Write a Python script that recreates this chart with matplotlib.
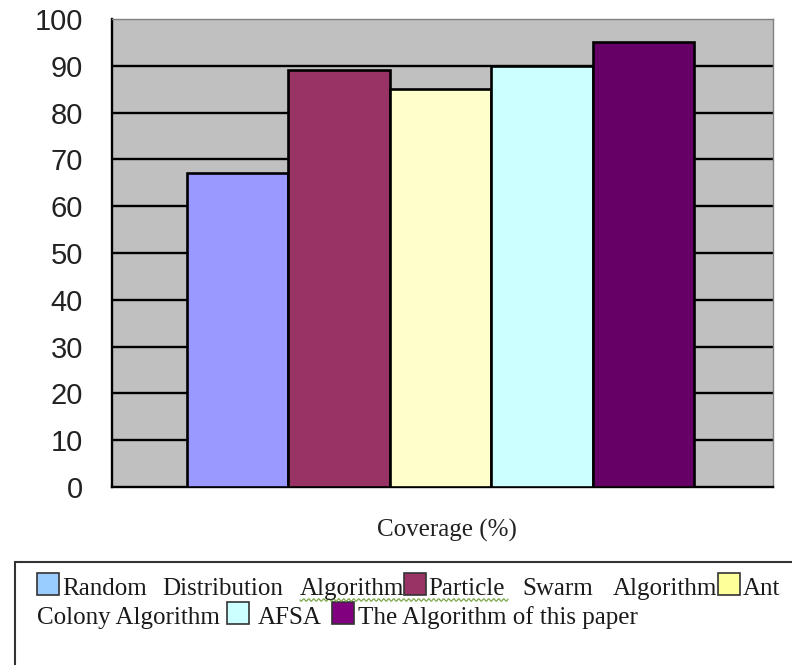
import numpy as np
import matplotlib.pyplot as plt
from matplotlib.patches import Rectangle
from matplotlib.lines import Line2D

algorithms = ["Random Distribution Algorithm", "Particle Swarm Algorithm",
              "Ant Colony Algorithm", "AFSA", "The Algorithm of this paper"]
coverage = [67, 89, 85, 90, 95]
y_ticks = [0, 10, 20, 30, 40, 50, 60, 70, 80, 90, 100]

bar_colors = ["#9999FF", "#993366", "#FFFFCC", "#CCFFFF", "#660066"]
swatch_colors = ["#99CCFF", "#993366", "#FFFF99", "#CCFFFF", "#800080"]

W, H = 792, 665
fig = plt.figure(figsize=(W / 100, H / 100), dpi=100)


def fx(x):
    return x / W


def fy(y):
    return 1 - y / H


ax = fig.add_axes([fx(112), fy(487), 661 / W, 468 / H])
ax.set_facecolor("#C0C0C0")

x = np.arange(len(coverage))
ax.bar(x, coverage, width=1.0, color=bar_colors, edgecolor="black",
       linewidth=1.9, zorder=3)

ax.set_xlim(-1.24, 5.28)
ax.set_ylim(0, 100)
ax.set_yticks(y_ticks)
ax.set_yticklabels([str(t) for t in y_ticks], fontsize=21,
                   family="Liberation Sans", color="#222222")
ax.tick_params(axis="y", length=0, pad=21)
ax.set_xticks([])

for t in y_ticks[1:-1]:
    ax.axhline(t, color="black", linewidth=1.7, zorder=1)

for side in ["left", "bottom"]:
    ax.spines[side].set_color("black")
    ax.spines[side].set_linewidth(1.7)
for side in ["top", "right"]:
    ax.spines[side].set_color("#808080")
    ax.spines[side].set_linewidth(1.0)

fig.text(fx(447), fy(537), "Coverage (%)", ha="center", va="baseline",
         fontsize=18, family="Liberation Serif", color="#222222")

# legend box, running off the right and bottom edges
fig.patches.append(Rectangle((fx(15), fy(700)), fx(820) - fx(15), fy(562) - fy(700),
                             transform=fig.transFigure, facecolor="white",
                             edgecolor="#333333", linewidth=1.5))


def swatch(x0, base, color):
    fig.patches.append(Rectangle((fx(x0), fy(base)), 22 / W, 22 / H,
                                 transform=fig.transFigure, facecolor=color,
                                 edgecolor="#333333", linewidth=1.2))


def word(x0, base, s):
    fig.text(fx(x0), fy(base), s, ha="left", va="baseline", fontsize=18,
             family="Liberation Serif", color="#1a1a1a")


base1, base2 = 595, 624
swatch(37, base1, swatch_colors[0])
for s, xp in [("Random", 62), ("Distribution", 162), ("Algorithm", 300)]:
    word(xp, base1, s)
swatch(404, base1, swatch_colors[1])
for s, xp in [("Particle", 428), ("Swarm", 522), ("Algorithm", 613)]:
    word(xp, base1, s)
swatch(718, base1, swatch_colors[2])
word(743, base1, "Ant")

word(37, base2, "Colony Algorithm")
swatch(227, base2, swatch_colors[3])
word(258, base2, "AFSA")
swatch(332, base2, swatch_colors[4])
word(358, base2, "The Algorithm of this paper")

# spell-check squiggle under "Algorithm Particle"
sx = np.linspace(300, 508, 200)
sy = 600 + 1.3 * np.sin(sx * 2 * np.pi / 5)
fig.lines.append(Line2D(fx(sx), fy(sy), transform=fig.transFigure,
                        color="#7AA84A", linewidth=0.9))

fig.savefig("out.png", dpi=100)
